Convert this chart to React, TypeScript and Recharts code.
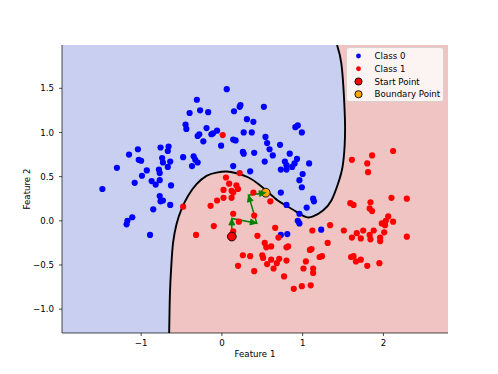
import React from "react";
import {
  ComposedChart,
  Area,
  Line,
  Scatter,
  XAxis,
  YAxis,
  Legend,
  Label,
  CartesianGrid,
} from "recharts";

// ---- data ----
const class0 = [
  { x: 0.06, y: 1.49 }, { x: -0.31, y: 1.37 }, { x: -0.4, y: 1.22 }, { x: -0.27, y: 1.25 },
  { x: -0.17, y: 1.23 }, { x: -0.45, y: 1.09 }, { x: -0.44, y: 1.04 }, { x: -0.19, y: 1.05 },
  { x: -0.3, y: 0.96 }, { x: -0.28, y: 0.98 }, { x: -0.23, y: 0.9 }, { x: -0.13, y: 0.98 },
  { x: -0.11, y: 0.99 }, { x: -0.06, y: 1.02 }, { x: -0.01, y: 0.85 }, { x: -1.04, y: 0.81 },
  { x: -1.15, y: 0.75 }, { x: -1.03, y: 0.69 }, { x: -1.0, y: 0.68 }, { x: -1.3, y: 0.6 },
  { x: -0.76, y: 0.83 }, { x: -0.66, y: 0.84 }, { x: -0.67, y: 0.79 }, { x: -0.74, y: 0.71 },
  { x: -0.73, y: 0.66 }, { x: -0.64, y: 0.67 }, { x: -0.67, y: 0.61 }, { x: -0.48, y: 0.72 },
  { x: -0.35, y: 0.73 }, { x: -0.33, y: 0.69 }, { x: -0.3, y: 0.66 }, { x: -0.37, y: 0.62 },
  { x: -0.78, y: 0.58 }, { x: -0.77, y: 0.54 }, { x: -0.93, y: 0.57 }, { x: -0.99, y: 0.51 },
  { x: -1.08, y: 0.43 }, { x: -0.87, y: 0.45 }, { x: -0.82, y: 0.41 }, { x: -0.77, y: 0.46 },
  { x: -0.63, y: 0.4 }, { x: -0.77, y: 0.28 }, { x: -0.76, y: 0.22 }, { x: -0.73, y: 0.23 },
  { x: -0.64, y: 0.18 }, { x: -0.85, y: 0.13 }, { x: -1.48, y: 0.36 }, { x: -1.11, y: 0.04 },
  { x: -1.17, y: 0.0 }, { x: -1.18, y: -0.04 }, { x: -0.89, y: -0.16 }, { x: 0.23, y: 1.31 },
  { x: 0.22, y: 1.29 }, { x: 0.15, y: 1.24 }, { x: 0.52, y: 1.29 }, { x: 0.31, y: 1.15 },
  { x: 0.39, y: 1.12 }, { x: 0.91, y: 1.06 }, { x: 0.94, y: 1.08 }, { x: 0.99, y: 1.0 },
  { x: 0.27, y: 1.0 }, { x: 0.37, y: 1.0 }, { x: 0.14, y: 0.92 }, { x: 0.17, y: 0.91 },
  { x: 0.54, y: 0.95 }, { x: 0.56, y: 0.88 }, { x: 0.59, y: 0.81 }, { x: 0.72, y: 0.86 },
  { x: 0.26, y: 0.78 }, { x: 0.27, y: 0.76 }, { x: 0.4, y: 0.77 }, { x: 0.63, y: 0.74 },
  { x: 0.84, y: 0.76 }, { x: 0.53, y: 0.67 }, { x: 0.78, y: 0.67 }, { x: 0.8, y: 0.63 },
  { x: 0.93, y: 0.7 }, { x: 0.9, y: 0.65 }, { x: 0.87, y: 0.61 }, { x: 0.8, y: 0.58 },
  { x: 0.73, y: 0.58 }, { x: 1.08, y: 0.65 }, { x: 0.14, y: 0.62 }, { x: 0.35, y: 0.56 },
  { x: 1.0, y: 0.53 }, { x: 0.96, y: 0.46 }, { x: 0.99, y: 0.38 }, { x: 0.73, y: 0.32 },
  { x: 1.13, y: 0.25 }, { x: 1.14, y: 0.22 }, { x: 0.8, y: 0.18 }, { x: 1.05, y: 0.15 },
  { x: 0.96, y: 0.08 }, { x: 0.94, y: 0.0 }, { x: 0.96, y: -0.03 }, { x: 1.23, y: -0.1 },
  { x: 0.73, y: -0.16 }, { x: 0.81, y: -0.15 },
];

const class1 = [
  { x: 0.01, y: 0.97 }, { x: -0.48, y: 0.16 }, { x: -0.32, y: -0.16 }, { x: -0.14, y: 0.17 },
  { x: -0.1, y: -0.06 }, { x: 0.22, y: 0.54 }, { x: 0.05, y: 0.49 }, { x: 0.09, y: 0.42 },
  { x: 0.02, y: 0.35 }, { x: 0.12, y: 0.34 }, { x: 0.18, y: 0.4 }, { x: 0.2, y: 0.36 },
  { x: 0.14, y: 0.32 }, { x: 0.02, y: 0.26 }, { x: 0.12, y: 0.26 }, { x: -0.06, y: 0.23 },
  { x: 0.14, y: 0.08 }, { x: 0.21, y: -0.01 }, { x: 0.14, y: -0.12 }, { x: 0.39, y: 0.32 },
  { x: 0.6, y: 0.22 }, { x: 0.4, y: 0.06 }, { x: 0.44, y: -0.17 }, { x: 0.66, y: -0.08 },
  { x: 0.7, y: -0.19 }, { x: 0.53, y: -0.25 }, { x: 0.55, y: -0.3 }, { x: 0.61, y: -0.29 },
  { x: 0.8, y: -0.3 }, { x: 0.82, y: -0.29 }, { x: 0.26, y: -0.39 }, { x: 0.35, y: -0.4 },
  { x: 0.5, y: -0.39 }, { x: 0.51, y: -0.42 }, { x: 0.61, y: -0.44 }, { x: 0.71, y: -0.43 },
  { x: 0.68, y: -0.48 }, { x: 0.8, y: -0.45 }, { x: 0.56, y: -0.49 }, { x: 0.64, y: -0.54 },
  { x: 0.2, y: -0.51 }, { x: 0.4, y: -0.57 }, { x: 0.77, y: -0.63 }, { x: 0.89, y: -0.77 },
  { x: 0.99, y: -0.74 }, { x: 1.1, y: -0.73 }, { x: 1.61, y: 0.69 }, { x: 1.86, y: 0.74 },
  { x: 2.12, y: 0.79 }, { x: 1.8, y: 0.65 }, { x: 1.81, y: 0.55 }, { x: 1.59, y: 0.2 },
  { x: 1.63, y: 0.18 }, { x: 1.84, y: 0.21 }, { x: 1.83, y: 0.14 }, { x: 1.86, y: 0.11 },
  { x: 2.1, y: 0.26 }, { x: 2.29, y: 0.25 }, { x: 2.06, y: 0.05 }, { x: 2.03, y: 0.0 },
  { x: 1.98, y: -0.03 }, { x: 2.02, y: -0.05 }, { x: 2.12, y: -0.01 }, { x: 1.88, y: -0.11 },
  { x: 1.83, y: -0.16 }, { x: 1.84, y: -0.21 }, { x: 1.96, y: -0.19 }, { x: 1.96, y: -0.23 },
  { x: 2.01, y: -0.13 }, { x: 1.75, y: -0.11 }, { x: 1.67, y: -0.14 }, { x: 1.61, y: -0.19 },
  { x: 1.72, y: -0.2 }, { x: 1.51, y: -0.11 }, { x: 1.34, y: -0.05 }, { x: 1.12, y: -0.11 },
  { x: 1.31, y: -0.25 }, { x: 1.11, y: -0.32 }, { x: 1.09, y: -0.33 }, { x: 1.24, y: -0.4 },
  { x: 1.21, y: -0.41 }, { x: 1.6, y: -0.41 }, { x: 1.63, y: -0.4 }, { x: 1.66, y: -0.46 },
  { x: 1.72, y: -0.44 }, { x: 1.8, y: -0.51 }, { x: 1.95, y: -0.48 }, { x: 1.04, y: -0.46 },
  { x: 1.01, y: -0.54 }, { x: 1.13, y: -0.54 }, { x: 1.13, y: -0.59 }, { x: 2.29, y: -0.18 },
];

const startPoint = [{ x: 0.123, y: -0.178 }];
const boundaryPoint = [{ x: 0.543, y: 0.318 }];

// steps of the search, start -> boundary
const searchPath = [
  { x: 0.123, y: -0.178 },
  { x: 0.123, y: 0.026 },
  { x: 0.432, y: -0.027 },
  { x: 0.329, y: 0.29 },
  { x: 0.543, y: 0.318 },
];

// decision boundary, traced from the top edge down to the bottom edge
const boundaryCurve = [
  { x: 1.426, y: 1.99 }, { x: 1.48, y: 1.776 }, { x: 1.512, y: 1.398 }, { x: 1.525, y: 1.097 },
  { x: 1.52, y: 0.85 }, { x: 1.493, y: 0.606 }, { x: 1.438, y: 0.419 }, { x: 1.356, y: 0.23 },
  { x: 1.252, y: 0.117 }, { x: 1.129, y: 0.049 }, { x: 1.047, y: 0.041 }, { x: 0.964, y: 0.079 },
  { x: 0.816, y: 0.162 }, { x: 0.692, y: 0.23 }, { x: 0.572, y: 0.324 }, { x: 0.448, y: 0.419 },
  { x: 0.324, y: 0.493 }, { x: 0.181, y: 0.538 }, { x: 0.057, y: 0.558 }, { x: -0.067, y: 0.546 },
  { x: -0.191, y: 0.509 }, { x: -0.314, y: 0.414 }, { x: -0.418, y: 0.283 }, { x: -0.5, y: 0.131 },
  { x: -0.562, y: -0.038 }, { x: -0.604, y: -0.245 }, { x: -0.624, y: -0.472 }, { x: -0.638, y: -0.7 },
  { x: -0.647, y: -0.95 }, { x: -0.653, y: -1.27 },
];

// class 0 region as a band [low, high] per x
const class0Region = [
  { x: -1.98, band: [-1.27, 1.99] }, { x: -0.653, band: [-1.27, 1.99] },
  { x: -0.647, band: [-0.95, 1.99] }, { x: -0.638, band: [-0.7, 1.99] },
  { x: -0.624, band: [-0.472, 1.99] }, { x: -0.604, band: [-0.245, 1.99] },
  { x: -0.562, band: [-0.038, 1.99] }, { x: -0.5, band: [0.131, 1.99] },
  { x: -0.418, band: [0.283, 1.99] }, { x: -0.314, band: [0.414, 1.99] },
  { x: -0.191, band: [0.509, 1.99] }, { x: -0.067, band: [0.546, 1.99] },
  { x: 0.057, band: [0.558, 1.99] }, { x: 0.181, band: [0.538, 1.99] },
  { x: 0.324, band: [0.493, 1.99] }, { x: 0.448, band: [0.419, 1.99] },
  { x: 0.572, band: [0.324, 1.99] }, { x: 0.692, band: [0.23, 1.99] },
  { x: 0.816, band: [0.162, 1.99] }, { x: 0.964, band: [0.079, 1.99] },
  { x: 1.047, band: [0.041, 1.99] }, { x: 1.129, band: [0.049, 1.99] },
  { x: 1.252, band: [0.117, 1.99] }, { x: 1.356, band: [0.23, 1.99] },
  { x: 1.426, band: [0.391, 1.99] }, { x: 1.438, band: [0.419, 1.94] },
  { x: 1.48, band: [0.562, 1.776] }, { x: 1.493, band: [0.606, 1.622] },
  { x: 1.512, band: [0.75, 1.398] }, { x: 1.52, band: [0.85, 1.25] },
  { x: 1.527, band: [1.0, 1.0] },
];

const xDomain = [-1.98, 2.8];
const yDomain = [-1.27, 1.99];
const xTicks = [-1, 0, 1, 2];
const yTicks = [-1, -0.5, 0, 0.5, 1, 1.5];

const legendItems = [
  { label: "Class 0", fill: "#0000ff", r: 2.4, edge: false },
  { label: "Class 1", fill: "#ff0000", r: 2.4, edge: false },
  { label: "Start Point", fill: "#ff0000", r: 3.6, edge: true },
  { label: "Boundary Point", fill: "#ffa500", r: 3.6, edge: true },
];

const FONT = "DejaVu Sans";
const minus = (s: string) => s.replace("-", "\u2212");
const tickStyle = { fill: "#000", fontSize: 8.65, fontFamily: FONT };
const lineStyle = { stroke: "#000", strokeWidth: 0.7 };

const dotShape = (fill: string, r: number, edge?: boolean) => (p: any) =>
  (
    <circle
      cx={p.cx}
      cy={p.cy}
      r={r}
      fill={fill}
      stroke={edge ? "#000" : "none"}
      strokeWidth={edge ? 0.9 : 0}
    />
  );

// arrow heads at the end of every step
function makeArrowHeads() {
  const seen: { x: number; y: number }[] = [];
  return (props: any) => {
    const { cx, cy, index } = props;
    seen[index] = { x: cx, y: cy };
    const prev = seen[index - 1];
    if (!index || !prev) return <g key={`ah-${index}`} />;
    const ang = Math.atan2(cy - prev.y, cx - prev.x);
    const len = 6.5;
    const half = 3;
    const bx = cx - len * Math.cos(ang);
    const by = cy - len * Math.sin(ang);
    const nx = -Math.sin(ang) * half;
    const ny = Math.cos(ang) * half;
    return (
      <polygon
        key={`ah-${index}`}
        points={`${cx},${cy} ${bx + nx},${by + ny} ${bx - nx},${by - ny}`}
        fill="#008000"
        stroke="#008000"
        strokeWidth={0.8}
      />
    );
  };
}

const LegendBox = () => (
  <svg width={98} height={55} style={{ display: "block" }}>
    <rect
      x={0.5}
      y={0.5}
      width={97}
      height={54}
      rx={2.5}
      fill="#ffffff"
      fillOpacity={0.8}
      stroke="#cccccc"
      strokeWidth={0.7}
    />
    {legendItems.map((it, i) => {
      const cy = 9 + i * 12.75;
      return (
        <g key={it.label}>
          <circle
            cx={12.5}
            cy={cy}
            r={it.r}
            fill={it.fill}
            stroke={it.edge ? "#000" : "none"}
            strokeWidth={0.9}
          />
          <text x={28.5} y={cy + 3.1} fontSize={8.65} fontFamily={FONT} fill="#000">
            {it.label}
          </text>
        </g>
      );
    })}
  </svg>
);

const App = () => {
  const arrowHeads = makeArrowHeads();
  return (
    <div style={{ position: "absolute", left: 0, top: 0, width: 498, height: 374, background: "#fff" }}>
      <ComposedChart
        width={498}
        height={374}
        margin={{ top: 45, right: 50, bottom: 16, left: -8 }}
        style={{ fontFamily: FONT }}
      >
        <CartesianGrid horizontal={false} vertical={false} fill="#efc4c3" fillOpacity={1} />
        <Area
          data={class0Region}
          dataKey="band"
          type="linear"
          fill="#c8cff0"
          fillOpacity={1}
          stroke="none"
          dot={false}
          activeDot={false}
          isAnimationActive={false}
        />
        <Line
          data={boundaryCurve}
          dataKey="y"
          type="natural"
          stroke="#000"
          strokeWidth={1.9}
          dot={false}
          activeDot={false}
          isAnimationActive={false}
        />
        <Scatter data={class0} fill="#0000ff" shape={dotShape("#0000ff", 3.1)} isAnimationActive={false} />
        <Scatter data={class1} fill="#ff0000" shape={dotShape("#ff0000", 3.1)} isAnimationActive={false} />
        <Scatter data={startPoint} fill="#ff0000" shape={dotShape("#ff0000", 4.4, true)} isAnimationActive={false} />
        <Line
          data={searchPath}
          dataKey="y"
          type="linear"
          stroke="#008000"
          strokeWidth={1.5}
          dot={arrowHeads}
          activeDot={false}
          isAnimationActive={false}
        />
        <Scatter data={boundaryPoint} fill="#ffa500" shape={dotShape("#ffa500", 4.4, true)} isAnimationActive={false} />
        <XAxis
          type="number"
          dataKey="x"
          domain={xDomain}
          ticks={xTicks}
          allowDataOverflow
          height={25}
          tick={tickStyle}
          tickLine={lineStyle}
          axisLine={lineStyle}
          tickSize={3}
          tickMargin={3.5}
          tickFormatter={(v: number) => minus(String(v))}
        >
          <Label value="Feature 1" position="insideBottom" offset={0.7} fontSize={8.65} fontFamily={FONT} fill="#000" />
        </XAxis>
        <YAxis
          type="number"
          dataKey="y"
          domain={yDomain}
          ticks={yTicks}
          allowDataOverflow
          width={70}
          tick={tickStyle}
          tickLine={lineStyle}
          axisLine={lineStyle}
          tickSize={3}
          tickMargin={5}
          tickFormatter={(v: number) => minus(v.toFixed(1))}
        >
          <Label value="Feature 2" position="center" angle={-90} fontSize={8.65} fontFamily={FONT} fill="#000" />
        </YAxis>
        <XAxis
          xAxisId="top"
          orientation="top"
          type="number"
          domain={xDomain}
          allowDataOverflow
          height={0}
          tick={false}
          tickLine={false}
          axisLine={lineStyle}
        />
        <YAxis
          yAxisId="right"
          orientation="right"
          type="number"
          domain={yDomain}
          allowDataOverflow
          width={0}
          tick={false}
          tickLine={false}
          axisLine={lineStyle}
        />
        <Legend
          layout="vertical"
          align="center"
          verticalAlign="middle"
          wrapperStyle={{ position: "absolute", left: 346, top: 47, width: 98, height: 55 }}
          content={() => <LegendBox />}
        />
      </ComposedChart>
    </div>
  );
};

export default App;
